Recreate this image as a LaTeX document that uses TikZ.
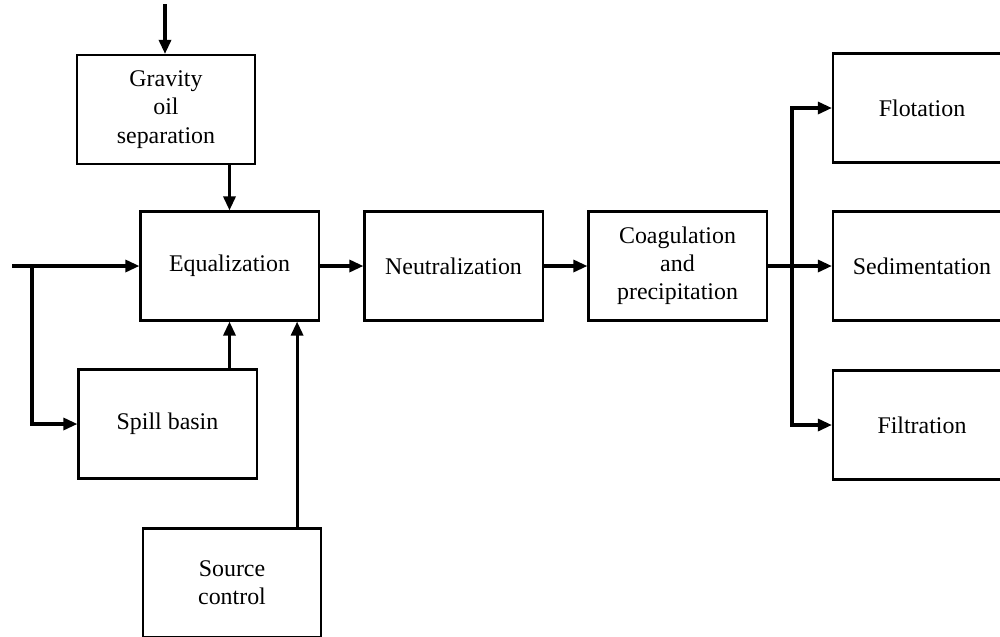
\documentclass[tikz,border=0pt]{standalone}
\usepackage{fontspec}
\setmainfont{Liberation Serif}
\usetikzlibrary{arrows.meta, calc}

\begin{document}
\begin{tikzpicture}[x=0.01cm, y=-0.01cm,
  every node/.style={font=\fontsize{6.8}{8}\selectfont},
  box/.style={draw, line width=0.6pt, align=center, minimum width=1.78cm, minimum height=1.09cm, inner sep=0pt},
  flow/.style={line width=0.9pt, -{Triangle[length=1.4mm, width=1.2mm]}}]
  \useasboundingbox (0,0) rectangle (1000,636);
  \clip (0,0) rectangle (1000,636);
  \node[box] (grav) at (166,109.5) {Gravity\\oil\\separation};
  \node[box] (equal) at (229.5,266) {Equalization};
  \node[box] (neut) at (453.5,266) {Neutralization};
  \node[box] (coag) at (677.5,266) {Coagulation\\and\\precipitation};
  \node[box] (flot) at (922,108) {Flotation};
  \node[box] (sed) at (922,266) {Sedimentation};
  \node[box] (filt) at (922,425) {Filtration};
  \node[box] (spill) at (167.5,424) {Spill basin};
  \node[box] (source) at (232,583) {Source\\control};
  \coordinate (top) at (165,4);
  \coordinate (in) at (12,266);
  \coordinate (branch) at (32,266);
  \coordinate (split) at (792,266);
  \draw[flow] (top) -- (grav.north -| top);
  \draw[flow] (grav.south -| equal.north) -- (equal.north);
  \draw[flow] (in) -- (equal.west);
  \draw[flow] (branch) |- (spill.west);
  \draw[flow] (spill.north -| equal.north) -- (equal.south);
  \draw[flow] ($(source.north east)+(-25,0)$) coordinate (rise) -- (rise |- equal.south);
  \draw[flow] (equal) -- (neut);
  \draw[flow] (neut) -- (coag);
  \draw[line width=0.9pt] (coag.east) -- (split);
  \draw[flow] (split) |- (flot.west);
  \draw[flow] (split) -- (sed.west);
  \draw[flow] (split) |- (filt.west);
\end{tikzpicture}
\end{document}
